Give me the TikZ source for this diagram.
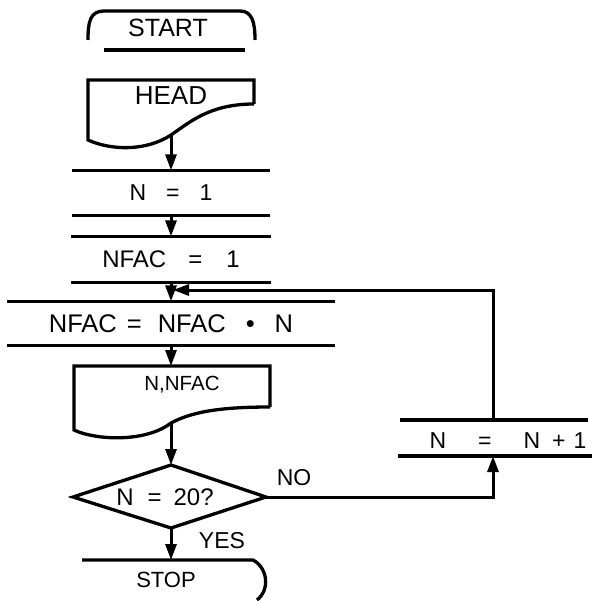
\documentclass[tikz,border=0pt]{standalone}
\usepackage{fontspec}
\setmainfont{Liberation Sans}
\usetikzlibrary{arrows.meta}
\begin{document}
\begin{tikzpicture}[x=1pt,y=-1pt,
  line width=3.3pt,
  arr/.style={-{Triangle[length=16pt,width=11pt]}, line width=3pt},
  lbl/.style={inner sep=0pt, font=\fontsize{#1}{#1}\selectfont},
]
\useasboundingbox (0,0) rectangle (600,601);

% START terminal
\node[lbl=25] (start) at (168,28) {START};
\draw (88,40) .. controls (88,22) and (90,11) .. (104,11) -- (240,11) .. controls (252,11) and (255,22) .. (255,40);
\draw (104,50) -- (245,50);

% HEAD document
\coordinate (hd) at (171,135);
\node[lbl=26] (head) at (171,96) {HEAD};
\draw (254,104) -- (254,80) -- (88,80) -- (88,140) .. controls (110,150) and (145,152) .. (hd) .. controls (190,122) and (210,104) .. (254,104);

% N = 1
\node[lbl=23, minimum width=195pt, minimum height=42pt] (n1) at (171,193) {N\hspace{20pt}=\hspace{20pt}1};
\draw (n1.north west) -- (n1.north east) (n1.south west) -- (n1.south east);
\draw[arr] (hd) -- (n1.north);

% NFAC = 1
\node[lbl=24, minimum width=197pt, minimum height=43pt] (n2) at (171,259.5) {NFAC\hspace{22pt}=\hspace{24pt}1};
\draw (n2.north west) -- (n2.north east) (n2.south west) -- (n2.south east);
\draw[arr] (n1.south) -- (n2.north);

% NFAC = NFAC . N
\node[lbl=25.5, minimum width=325pt, minimum height=41pt] (n3) at (171,323.5) {NFAC\hspace{10pt}=\hspace{16pt}NFAC\hspace{20pt}•\hspace{20pt}N};
\draw (n3.north west) -- (n3.north east) (n3.south west) -- (n3.south east);
\coordinate (junc) at (173,290);
\draw[arr] (n2.south) -- (n3.north);

% N,NFAC document
\coordinate (dtop) at (171,366);
\coordinate (dw) at (171,423);
\node[lbl=20.5] (out) at (182,385) {N,NFAC};
\draw (270,407) -- (270,366) -- (74,366) -- (74,430) .. controls (95,440) and (145,443) .. (dw) .. controls (190,413) and (215,407) .. (270,407);
\draw[arr] (n3.south) -- (dtop);

% decision
\coordinate (dt) at (171,465);
\coordinate (dl) at (73,497);
\coordinate (dr) at (266,497);
\coordinate (db) at (171,528);
\draw (dt) -- (dr) -- (db) -- (dl) -- cycle;
\node[lbl=24] (dec) at (165,497) {N\hspace{14pt}=\hspace{12pt}20?};
\draw[arr] (dw) -- (dt);

% N = N + 1
\coordinate (inctop) at (493,420);
\coordinate (incbot) at (493,456);
\node[lbl=23] (inc) at (508,441) {N\hspace{32pt}=\hspace{32pt}N\hspace{12pt}+\hspace{8pt}1};
\draw (400,420) -- (588,420) (398,456) -- (592,456);

% NO branch
\node[lbl=23] (no) at (294,478) {NO};
\draw[arr] (dr) -- (dr -| incbot) -- (incbot);

% loop back
\draw[arr] (inctop) -- (inctop |- junc) -- (junc);

% YES / STOP
\node[lbl=23] (yes) at (222,541) {YES};
\coordinate (st) at (171,560);
\draw[arr] (db) -- (st);
\node[lbl=22] (stop) at (166,580) {STOP};
\draw (82,560) -- (253,560) .. controls (268,568) and (270,590) .. (257,600);
\end{tikzpicture}
\end{document}
